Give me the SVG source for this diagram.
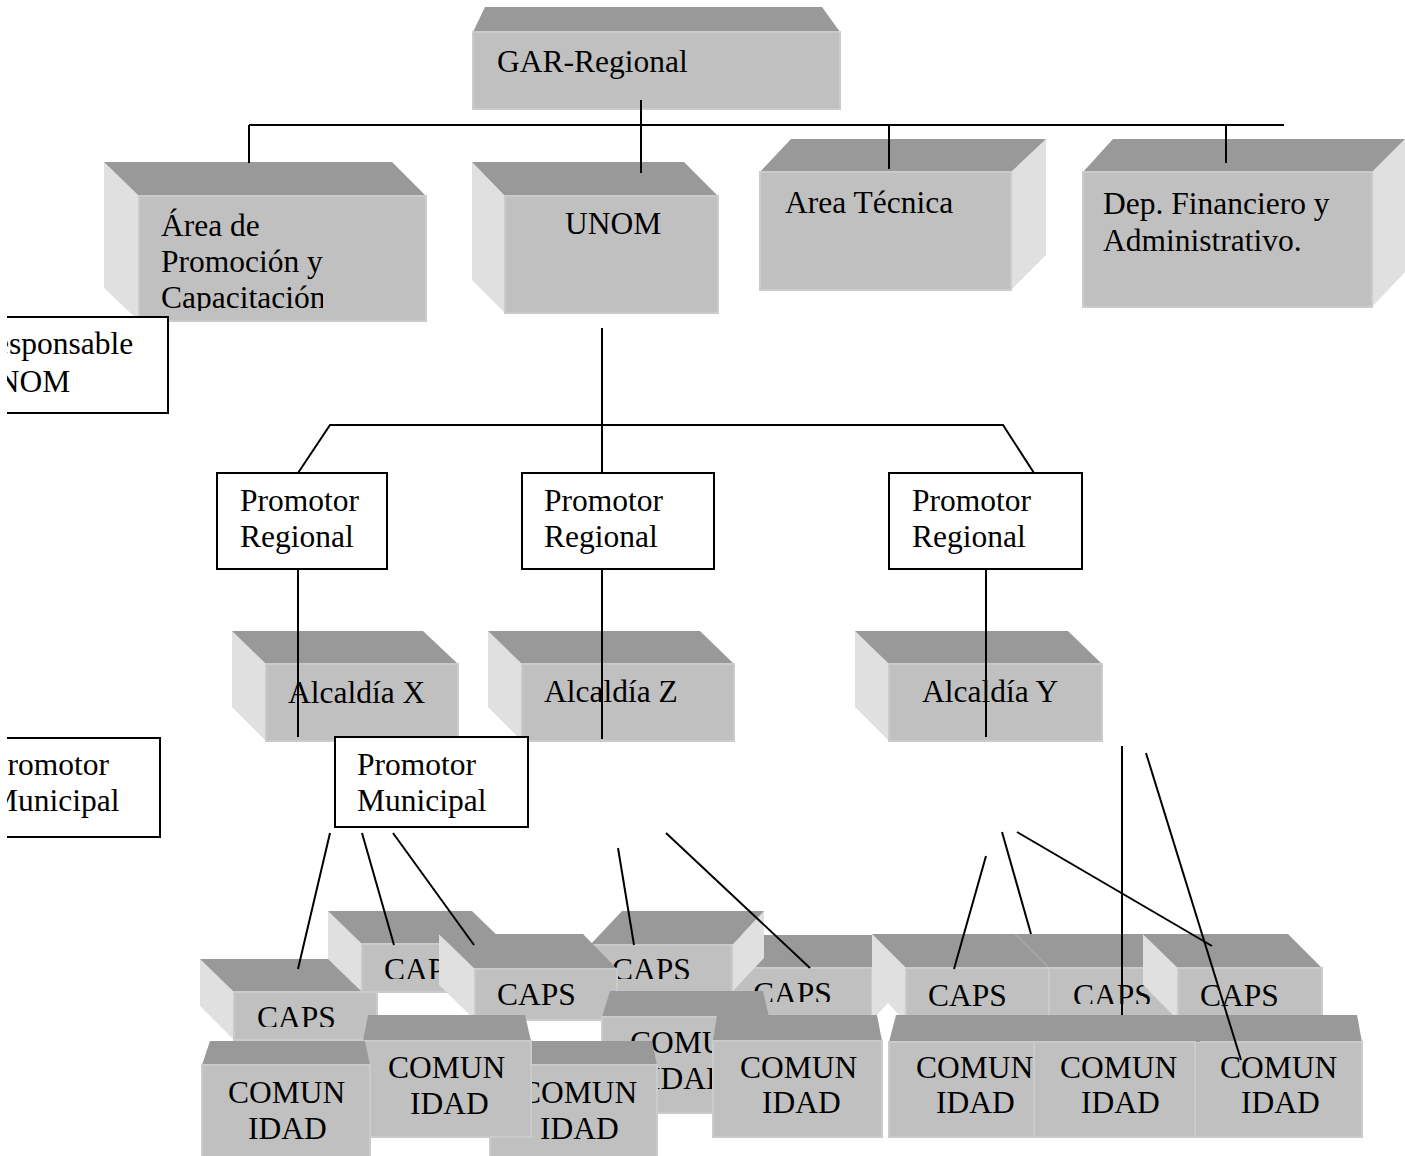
<svg xmlns="http://www.w3.org/2000/svg" width="1405" height="1156" viewBox="0 0 1405 1156">
<style>
.top{fill:#999999}
.front{fill:#c0c0c0;stroke:#cbcbcb;stroke-width:2}
.side{fill:#e0e0e0}
.t{font-family:"Liberation Serif","Times New Roman",serif;font-size:31.5px;fill:#000}
.box{fill:#fff;stroke:#000;stroke-width:2}
.ln{stroke:#000;stroke-width:2;fill:none}
</style>
<defs>
<clipPath id="cpArea"><rect x="139" y="196" width="184" height="115"/></clipPath>
<clipPath id="cpLeft"><rect x="7" y="0" width="400" height="1156"/></clipPath>
<clipPath id="cpA"><rect x="234" y="992" width="143" height="35"/></clipPath>
<clipPath id="cpB"><rect x="362" y="944" width="144" height="35"/></clipPath>
<clipPath id="cpD"><rect x="590" y="945" width="142" height="34"/></clipPath>
<clipPath id="cpE"><rect x="733" y="968" width="139" height="34"/></clipPath>
<clipPath id="cpG"><rect x="1049" y="968" width="143" height="36"/></clipPath>
</defs>
<rect width="1405" height="1156" fill="#fff"/>

<g id="gar">
<polygon class="top" points="485,7 822,7 840,32 473,32"/>
<rect class="front" x="473" y="32" width="367" height="77"/>
<text class="t" x="497" y="72">GAR-Regional</text>
</g>

<g id="area-promocion">
<polygon class="side" points="104,162 139,196 139,321 104,288"/>
<polygon class="top" points="104,162 392,162 426,196 139,196"/>
<rect class="front" x="139" y="196" width="287" height="125"/>
<g clip-path="url(#cpArea)">
<text class="t" x="161" y="236">Área de</text>
<text class="t" x="161" y="272">Promoción y</text>
<text class="t" x="161" y="308">Capacitación</text>
</g>
</g>

<g id="unom">
<polygon class="side" points="472,162 505,196 505,313 472,280"/>
<polygon class="top" points="472,162 684,162 718,196 505,196"/>
<rect class="front" x="505" y="196" width="213" height="117"/>
<text class="t" x="565" y="234">UNOM</text>
</g>

<g id="area-tecnica">
<polygon class="side" points="1011,172 1046,139 1046,255 1011,290"/>
<polygon class="top" points="791,139 1046,139 1011,172 760,172"/>
<rect class="front" x="760" y="172" width="251" height="118"/>
<text class="t" x="785" y="213">Area Técnica</text>
</g>

<g id="dep-financiero">
<polygon class="side" points="1372,172 1405,139 1405,272 1372,307"/>
<polygon class="top" points="1113,139 1405,139 1372,172 1083,172"/>
<rect class="front" x="1083" y="172" width="289" height="135"/>
<text class="t" x="1103" y="214">Dep. Financiero y</text>
<text class="t" x="1103" y="251">Administrativo.</text>
</g>

<g id="responsable-unom" clip-path="url(#cpLeft)">
<rect class="box" x="-60" y="317" width="228" height="96"/>
<text class="t" x="-26" y="354">Responsable</text>
<text class="t" x="-26" y="392">UNOM</text>
</g>

<g id="promotor-regional-1">
<rect class="box" x="217" y="473" width="170" height="96"/>
<text class="t" x="240" y="511">Promotor</text>
<text class="t" x="240" y="547">Regional</text>
</g>
<g id="promotor-regional-2">
<rect class="box" x="522" y="473" width="192" height="96"/>
<text class="t" x="544" y="511">Promotor</text>
<text class="t" x="544" y="547">Regional</text>
</g>
<g id="promotor-regional-3">
<rect class="box" x="889" y="473" width="193" height="96"/>
<text class="t" x="912" y="511">Promotor</text>
<text class="t" x="912" y="547">Regional</text>
</g>

<g id="alcaldia-x">
<polygon class="side" points="232,631 266,664 266,741 232,707"/>
<polygon class="top" points="232,631 423,631 458,664 266,664"/>
<rect class="front" x="266" y="664" width="192" height="77"/>
<text class="t" x="288" y="703">Alcaldía X</text>
</g>
<g id="alcaldia-z">
<polygon class="side" points="488,631 522,664 522,741 488,707"/>
<polygon class="top" points="488,631 700,631 734,664 522,664"/>
<rect class="front" x="522" y="664" width="212" height="77"/>
<text class="t" x="544" y="702">Alcaldía Z</text>
</g>
<g id="alcaldia-y">
<polygon class="side" points="855,631 889,664 889,741 855,707"/>
<polygon class="top" points="855,631 1068,631 1102,664 889,664"/>
<rect class="front" x="889" y="664" width="213" height="77"/>
<text class="t" x="922" y="702">Alcaldía Y</text>
</g>

<g id="promotor-municipal-left" clip-path="url(#cpLeft)">
<rect class="box" x="-40" y="738" width="200" height="99"/>
<text class="t" x="-10" y="775">Promotor</text>
<text class="t" x="-10" y="811">Municipal</text>
</g>
<g id="promotor-municipal">
<rect class="box" x="335" y="737" width="193" height="90"/>
<text class="t" x="357" y="775">Promotor</text>
<text class="t" x="357" y="811">Municipal</text>
</g>

<g id="caps-e">
<polygon class="top" points="733,935 872,935 872,968 733,968"/>
<rect class="front" x="733" y="968" width="139" height="48"/>
<text class="t" x="753" y="1004" clip-path="url(#cpE)">CAPS</text>
</g>
<g id="caps-g">
<polygon class="top" points="1015,934 1158,934 1192,968 1049,968"/>
<rect class="front" x="1049" y="968" width="143" height="48"/>
<text class="t" x="1073" y="1006" clip-path="url(#cpG)">CAPS</text>
</g>
<g id="caps-d">
<polygon class="side" points="732,945 764,911 764,958 732,992"/>
<polygon class="top" points="622,911 764,911 732,945 590,945"/>
<rect class="front" x="590" y="945" width="142" height="47"/>
<text class="t" x="612" y="980" clip-path="url(#cpD)">CAPS</text>
</g>
<g id="caps-a">
<polygon class="side" points="200,959 234,992 234,1040 200,1006"/>
<polygon class="top" points="200,959 343,959 377,992 234,992"/>
<rect class="front" x="234" y="992" width="143" height="48"/>
<text class="t" x="257" y="1028" clip-path="url(#cpA)">CAPS</text>
</g>
<g id="caps-b">
<polygon class="side" points="328,911 362,944 362,992 328,959"/>
<polygon class="top" points="328,911 472,911 506,944 362,944"/>
<rect class="front" x="362" y="944" width="144" height="48"/>
<text class="t" x="384" y="980" clip-path="url(#cpB)">CAPS</text>
</g>
<g id="caps-c">
<polygon class="side" points="439,934 475,969 475,1020 439,985"/>
<polygon class="top" points="439,934 583,934 617,969 475,969"/>
<rect class="front" x="475" y="969" width="142" height="51"/>
<text class="t" x="497" y="1005">CAPS</text>
</g>
<g id="caps-f">
<polygon class="side" points="872,934 906,968 906,1016 872,1016"/>
<polygon class="top" points="872,934 1015,934 1049,968 906,968"/>
<rect class="front" x="906" y="968" width="143" height="48"/>
<text class="t" x="928" y="1006">CAPS</text>
<polygon fill="#fff" points="876,1016 888,1003 900,1016"/>
</g>
<g id="caps-h">
<polygon class="side" points="1143,934 1178,968 1178,1020 1143,985"/>
<polygon class="top" points="1143,934 1288,934 1322,968 1178,968"/>
<rect class="front" x="1178" y="968" width="144" height="52"/>
<text class="t" x="1200" y="1006">CAPS</text>
</g>

<g id="comunidad-4">
<polygon class="top" points="610,991 763,991 769,1017 602,1017"/>
<rect class="front" x="602" y="1017" width="167" height="96"/>
<text class="t" x="630" y="1053">COMUN</text>
<text class="t" x="650" y="1089">IDAD</text>
</g>
<g id="comunidad-3">
<polygon class="top" points="497,1041 652,1041 657,1065 490,1065"/>
<rect class="front" x="490" y="1065" width="167" height="100"/>
<text class="t" x="520" y="1103">COMUN</text>
<text class="t" x="540" y="1139">IDAD</text>
</g>
<g id="comunidad-2">
<polygon class="top" points="368,1015 525,1015 531,1041 363,1041"/>
<rect class="front" x="363" y="1041" width="168" height="96"/>
<text class="t" x="388" y="1078">COMUN</text>
<text class="t" x="410" y="1114">IDAD</text>
</g>
<g id="comunidad-1">
<polygon class="top" points="210,1041 365,1041 370,1065 202,1065"/>
<rect class="front" x="202" y="1065" width="168" height="100"/>
<text class="t" x="228" y="1103">COMUN</text>
<text class="t" x="248" y="1139">IDAD</text>
</g>
<g id="comunidad-5">
<polygon class="top" points="717,1015 877,1015 882,1041 713,1041"/>
<rect class="front" x="713" y="1041" width="169" height="96"/>
<text class="t" x="740" y="1078">COMUN</text>
<text class="t" x="762" y="1113">IDAD</text>
</g>
<g id="comunidad-8">
<polygon class="top" points="1190,1015 1357,1015 1362,1042 1195,1042"/>
<rect class="front" x="1195" y="1042" width="167" height="95"/>
<text class="t" x="1220" y="1078">COMUN</text>
<text class="t" x="1241" y="1113">IDAD</text>
</g>
<g id="comunidad-7">
<polygon class="top" points="1020,1015 1200,1015 1200,1042 1020,1042"/>
<rect class="front" x="1034" y="1042" width="161" height="95"/>
<text class="t" x="1060" y="1078">COMUN</text>
<text class="t" x="1081" y="1113">IDAD</text>
</g>
<g id="comunidad-6">
<polygon class="top" points="896,1015 1030,1015 1034,1042 889,1042"/>
<rect class="front" x="889" y="1042" width="145" height="95"/>
<text class="t" x="916" y="1078">COMUN</text>
<text class="t" x="936" y="1113">IDAD</text>
</g>

<g id="connectors" class="ln">
<line x1="641" y1="100" x2="641" y2="173"/>
<line x1="249" y1="125" x2="1284" y2="125"/>
<line x1="249" y1="125" x2="249" y2="163"/>
<line x1="889" y1="125" x2="889" y2="169"/>
<line x1="1226" y1="125" x2="1226" y2="163"/>
<line x1="602" y1="328" x2="602" y2="473"/>
<polyline points="298,473 330,425 1003,425 1034,473"/>
<line x1="298" y1="569" x2="298" y2="737"/>
<line x1="602" y1="569" x2="602" y2="739"/>
<line x1="986" y1="569" x2="986" y2="737"/>
<line x1="330" y1="833" x2="298" y2="969"/>
<line x1="362" y1="833" x2="394" y2="945"/>
<line x1="393" y1="833" x2="474" y2="945"/>
<line x1="618" y1="848" x2="634" y2="945"/>
<line x1="666" y1="833" x2="810" y2="968"/>
<line x1="986" y1="856" x2="954" y2="969"/>
<line x1="1002" y1="832" x2="1031" y2="934"/>
<line x1="1017" y1="832" x2="1212" y2="946"/>
<line x1="1122" y1="746" x2="1122" y2="1015"/>
<line x1="1146" y1="753" x2="1241" y2="1060"/>
</g>
</svg>
